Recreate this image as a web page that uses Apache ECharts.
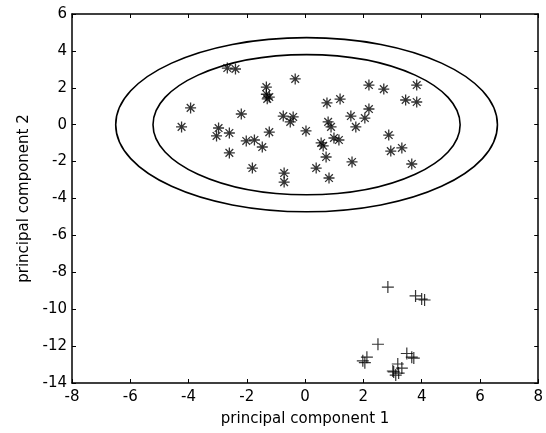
<!DOCTYPE html>
<html>
<head>
<meta charset="utf-8">
<script src="https://cdn.jsdelivr.net/npm/echarts@6/dist/echarts.min.js"></script>
<style>html,body{margin:0;padding:0;background:#fff}#c{width:546px;height:433px}</style>
</head>
<body>
<div id="c"></div>
<script>
// Group 1 (asterisks): [pc1, pc2]
var starPoints = [
  [-2.67, 3.07], [-2.39, 3.02], [-1.33, 2.04], [-1.23, 1.50], [-1.33, 1.65], [-1.30, 1.40],
  [-3.93, 0.91], [-2.19, 0.58], [-4.24, -0.12], [-2.97, -0.18], [-3.04, -0.61], [-2.60, -0.45],
  [-1.23, -0.40], [-2.02, -0.88], [-1.74, -0.83], [-1.47, -1.21], [-2.60, -1.53], [-1.81, -2.35],
  [-0.34, 2.48], [0.75, 1.18], [1.20, 1.39], [-0.75, 0.47], [-0.41, 0.42], [-0.51, 0.15],
  [1.57, 0.47], [1.74, -0.12], [0.79, 0.15], [0.89, -0.12], [0.03, -0.34], [0.99, -0.72],
  [1.16, -0.83], [0.55, -0.99], [0.62, -1.15], [0.72, -1.75], [0.38, -2.35], [1.61, -2.02],
  [-0.72, -2.62], [-0.72, -3.11], [0.82, -2.89],
  [2.19, 2.15], [2.70, 1.93], [3.83, 2.15], [3.45, 1.34], [3.83, 1.23], [2.19, 0.85],
  [2.05, 0.36], [2.87, -0.56], [2.94, -1.43], [3.32, -1.26], [3.66, -2.13]
];
// Group 2 (plus signs): [pc1, pc2]
var plusPoints = [
  [2.84, -8.80], [3.79, -9.28], [4.00, -9.45], [4.10, -9.50], [2.50, -11.9],
  [2.12, -12.6], [1.98, -12.8], [2.05, -12.9], [3.49, -12.4], [3.66, -12.6], [3.73, -12.65],
  [3.01, -13.35], [3.18, -12.97], [3.32, -13.19], [3.11, -13.57], [3.21, -13.46], [3.04, -13.4]
];
// Confidence ellipses: [centerX, centerY, semiAxisX, semiAxisY]
var ellipses = [
  [0.05, 0.0, 5.27, 3.8],
  [0.05, 0.0, 6.55, 4.72]
];
var xTicks = [-8, -6, -4, -2, 0, 2, 4, 6, 8];
var yTicks = [-14, -12, -10, -8, -6, -4, -2, 0, 2, 4, 6];

var chart = echarts.init(document.getElementById('c'), null, {renderer: 'canvas'});
var font = 'DejaVu Sans';
var axisCommon = {
  axisLine: {show: true, onZero: false, lineStyle: {color: '#000', width: 1.5}},
  axisTick: {show: true, inside: true, length: 4, lineStyle: {color: '#000', width: 1}},
  splitLine: {show: false}
};
var starPath = 'path://M0,5L10,5M5,0L5,10M1.5,1.5L8.5,8.5M1.5,8.5L8.5,1.5';
var plusPath = 'path://M0,5L10,5M5,0L5,10';

chart.setOption({
  backgroundColor: '#fff',
  animation: false,
  grid: {left: 72, right: 6, top: 14, bottom: 50},
  xAxis: [
    Object.assign({
      type: 'value', min: xTicks[0], max: xTicks[xTicks.length - 1], interval: 2,
      name: 'principal component 1', nameLocation: 'middle', nameGap: 29,
      nameTextStyle: {fontFamily: font, fontSize: 15, color: '#000'},
      axisLabel: {fontFamily: font, fontSize: 15, color: '#000', margin: 7}
    }, axisCommon),
    Object.assign({
      type: 'value', position: 'top', min: xTicks[0], max: xTicks[xTicks.length - 1], interval: 2,
      axisLabel: {show: false}
    }, axisCommon)
  ],
  yAxis: [
    Object.assign({
      type: 'value', min: yTicks[0], max: yTicks[yTicks.length - 1], interval: 2,
      name: 'principal component 2', nameLocation: 'middle', nameGap: 40,
      nameTextStyle: {fontFamily: font, fontSize: 15, color: '#000'},
      axisLabel: {fontFamily: font, fontSize: 15, color: '#000', margin: 5}
    }, axisCommon),
    Object.assign({
      type: 'value', position: 'right', min: yTicks[0], max: yTicks[yTicks.length - 1], interval: 2,
      axisLabel: {show: false}
    }, axisCommon)
  ],
  series: [
    {
      type: 'custom',
      data: ellipses,
      silent: true,
      renderItem: function (params, api) {
        var c = api.coord([api.value(0), api.value(1)]);
        var s = api.size([api.value(2), api.value(3)]);
        return {
          type: 'ellipse',
          shape: {cx: c[0], cy: c[1], rx: s[0], ry: s[1]},
          style: {fill: 'none', stroke: '#000', lineWidth: 1.6}
        };
      },
      encode: {x: 0, y: 1}
    },
    {
      type: 'scatter',
      data: starPoints,
      symbol: starPath,
      symbolSize: 11,
      itemStyle: {color: 'none', borderColor: '#000', borderWidth: 1.3}
    },
    {
      type: 'scatter',
      data: plusPoints,
      symbol: plusPath,
      symbolSize: 12,
      itemStyle: {color: 'none', borderColor: '#000', borderWidth: 1.2}
    }
  ]
});
</script>
</body>
</html>
